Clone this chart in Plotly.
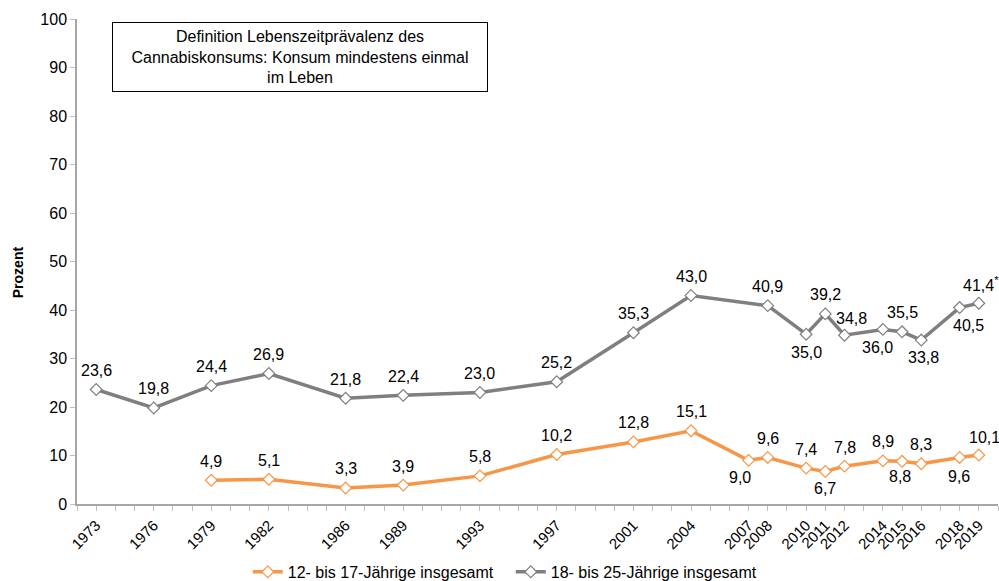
import plotly.graph_objects as go

years_teen = [1979, 1982, 1986, 1989, 1993, 1997, 2001, 2004, 2007, 2008, 2010, 2011, 2012, 2014, 2015, 2016, 2018, 2019]
vals_teen = [4.9, 5.1, 3.3, 3.9, 5.8, 10.2, 12.8, 15.1, 9.0, 9.6, 7.4, 6.7, 7.8, 8.9, 8.8, 8.3, 9.6, 10.1]
labels_teen = ["4,9", "5,1", "3,3", "3,9", "5,8", "10,2", "12,8", "15,1", "9,0", "9,6", "7,4", "6,7", "7,8", "8,9", "8,8", "8,3", "9,6", "10,1<sup>*</sup>"]

years_young = [1973, 1976, 1979, 1982, 1986, 1989, 1993, 1997, 2001, 2004, 2008, 2010, 2011, 2012, 2014, 2015, 2016, 2018, 2019]
vals_young = [23.6, 19.8, 24.4, 26.9, 21.8, 22.4, 23.0, 25.2, 35.3, 43.0, 40.9, 35.0, 39.2, 34.8, 36.0, 35.5, 33.8, 40.5, 41.4]
labels_young = ["23,6", "19,8", "24,4", "26,9", "21,8", "22,4", "23,0", "25,2", "35,3", "43,0", "40,9", "35,0", "39,2", "34,8", "36,0", "35,5", "33,8", "40,5", "41,4<sup>*</sup>"]

tick_years = [1973, 1976, 1979, 1982, 1986, 1989, 1993, 1997, 2001, 2004, 2007, 2008, 2010, 2011, 2012, 2014, 2015, 2016, 2018, 2019]

name_teen = "12- bis 17-Jährige insgesamt"
name_young = "18- bis 25-Jährige insgesamt"

# label placement: (xshift, yshift) in pixels
place_teen = {2007: (-9, -17), 2011: (0, -17), 2015: (-2, -15), 2018: (-1, -19), 2019: (8, 19)}
place_young = {2010: (0, -18), 2012: (7, 17), 2014: (-5, -18), 2016: (2, -17), 2018: (9, -18), 2019: (2, 19)}

ORANGE = "#F79646"
GRAY = "#7F7F7F"
AXIS = "#A6A6A6"
FONT = "Liberation Sans, Arial, sans-serif"

fig = go.Figure()
for xs, ys, name, color in [(years_teen, vals_teen, name_teen, ORANGE), (years_young, vals_young, name_young, GRAY)]:
    fig.add_trace(go.Scatter(
        x=xs, y=ys, name=name, mode="lines+markers",
        line=dict(color=color, width=3.5),
        marker=dict(symbol="diamond", size=9, color="white", line=dict(color=color, width=1.2)),
    ))

annotations = []
for xs, ys, labs, place in [(years_teen, vals_teen, labels_teen, place_teen), (years_young, vals_young, labels_young, place_young)]:
    for x, y, t in zip(xs, ys, labs):
        dx, dy = place.get(x, (0, 19))
        annotations.append(dict(x=x, y=y, text=t, showarrow=False, xshift=dx, yshift=dy,
                                xanchor="center", yanchor="middle",
                                font=dict(family=FONT, size=16, color="#000000")))

annotations.append(dict(
    xref="paper", yref="paper", x=0.2416, y=0.9217, xanchor="center", yanchor="middle",
    text="Definition Lebenszeitprävalenz des<br>Cannabiskonsums: Konsum mindestens einmal<br>im Leben",
    showarrow=False, align="center", width=372, height=66,
    bordercolor="#000000", borderwidth=1, bgcolor="white",
    font=dict(family=FONT, size=16, color="#000000"),
))
annotations.append(dict(
    xref="paper", yref="paper", x=-0.064, y=0.478, xanchor="center", yanchor="middle",
    text="<b>Prozent</b>", textangle=-90, showarrow=False,
    font=dict(family=FONT, size=14, color="#000000"),
))

fig.update_layout(
    width=999, height=581,
    margin=dict(l=77, r=1, t=19, b=77, autoexpand=False),
    paper_bgcolor="white", plot_bgcolor="white",
    font=dict(family=FONT, size=15, color="#000000"),
    showlegend=True,
    legend=dict(orientation="h", x=0.471, y=-0.140, xanchor="center", yanchor="middle",
                font=dict(family=FONT, size=16), itemwidth=30, traceorder="normal",
                entrywidth=218, bgcolor="rgba(0,0,0,0)"),
    annotations=annotations,
)
fig.update_xaxes(
    range=[1972, 2020], tickmode="array", tickvals=tick_years, ticktext=[str(y) for y in tick_years],
    tickangle=-45, ticks="outside", ticklen=5, tickcolor="#BFBFBF", automargin=False,
    showline=True, linecolor=AXIS, linewidth=1.5, showgrid=False, zeroline=False,
    tickfont=dict(family=FONT, size=15),
    minor=dict(tick0=1972, dtick=1, ticks="outside", ticklen=5, tickcolor="#BFBFBF", showgrid=False),
)
fig.update_yaxes(
    range=[0, 100], dtick=10, ticks="outside", ticklen=5, tickcolor="#BFBFBF", automargin=False,
    showline=True, linecolor=AXIS, linewidth=1.5, showgrid=False, zeroline=False,
    tickfont=dict(family=FONT, size=16),
)

fig.write_html(
    "out.html",
    config={"displayModeBar": False},
    post_script="document.body.style.margin='0';document.body.style.overflow='hidden';",
)
